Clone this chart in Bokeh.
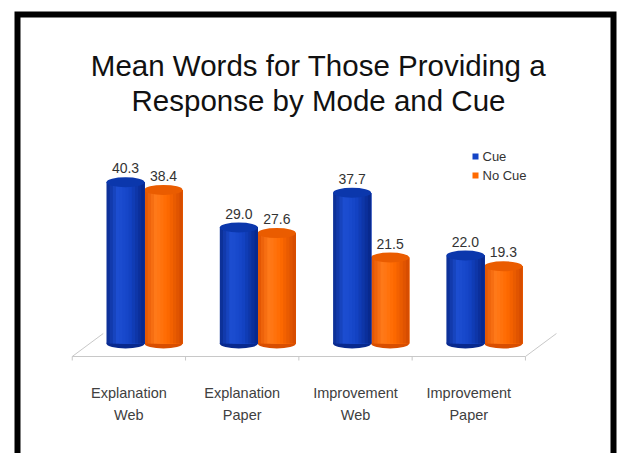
from bokeh.plotting import figure
from bokeh.models import Range1d, ColumnDataSource
from bokeh.core.properties import value
from bokeh.embed import file_html
from bokeh.resources import INLINE

# ---------------- data ----------------
categories = ["Explanation\nWeb", "Explanation\nPaper", "Improvement\nWeb", "Improvement\nPaper"]
series_names = ["Cue", "No Cue"]
cue = [40.3, 29.0, 37.7, 22.0]
no_cue = [38.4, 27.6, 21.5, 19.3]
title_lines = ["Mean Words for Those Providing a", "Response by Mode and Cue"]

# ---------------- layout helpers (pixel -> data) ----------------
W, H = 617, 453
X0, SX = 125.0, 113.3   # pixel of group 0 blue bar centre, pixels per group
Y0, SY = 343.0, 4.0     # pixel of value 0, pixels per unit


def X(px):
    return (px - X0) / SX


def Y(py):
    return (Y0 - py) / SY


FONT = value("Liberation Sans")

p = figure(width=W, height=H, output_backend="svg", toolbar_location=None,
           x_range=Range1d(X(0), X(W)), y_range=Range1d(Y(H), Y(0)),
           min_border=0, x_axis_type=None, y_axis_type=None)
p.outline_line_color = None
p.grid.visible = False
p.background_fill_color = "white"
p.border_fill_color = "white"

n = len(categories)
bar_w = 38 / SX
ell_h = 10 / SY

# ---------------- floor ----------------
floor_col = "#c8c8c8"
bounds = [i - 0.47 for i in range(n + 1)]
front_y = Y(356)
dx, dy = 31 / SX, 23 / SY
p.line([bounds[0], bounds[-1]], [front_y, front_y], line_color=floor_col, line_width=1)
p.line([bounds[0], bounds[0] + dx], [front_y, front_y + dy], line_color=floor_col, line_width=1)
p.line([bounds[-1], bounds[-1] + dx], [front_y, front_y + dy], line_color=floor_col, line_width=1)
p.segment(x0=bounds, y0=[front_y] * (n + 1), x1=bounds, y1=[front_y - 4 / SY] * (n + 1),
          line_color=floor_col, line_width=1)


# ---------------- cylinders ----------------
def hex2rgb(h):
    h = h.lstrip("#")
    return tuple(int(h[i:i + 2], 16) for i in (0, 2, 4))


def lerp_col(stops, u):
    for (u0, c0), (u1, c1) in zip(stops, stops[1:]):
        if u0 <= u <= u1:
            t = (u - u0) / (u1 - u0) if u1 > u0 else 0
            a, b = hex2rgb(c0), hex2rgb(c1)
            return "#%02x%02x%02x" % tuple(int(round(a[k] + (b[k] - a[k]) * t)) for k in range(3))
    return stops[-1][1]


styles = {
    "Cue": dict(stops=[(0, "#0a2c90"), (0.3, "#1d4ed2"), (0.6, "#1444c6"), (1, "#072688")],
                top="#0b37ac", bottom="#08298e", offset=0.0),
    "No Cue": dict(stops=[(0, "#e05200"), (0.3, "#ff7a1a"), (0.6, "#ff6a00"), (1, "#d24a00")],
                   top="#ea5c00", bottom="#d84e00", offset=bar_w),
}

NS = 12
for name, vals in reversed(list(zip(series_names, [cue, no_cue]))):
    st = styles[name]
    xs = [i + st["offset"] for i in range(n)]
    src = ColumnDataSource(dict(x=xs, top=vals, base=[0] * n))
    p.ellipse(x="x", y="base", width=bar_w, height=ell_h, source=src,
              fill_color=st["bottom"], line_color=None)
    sw = bar_w / NS
    for k in range(NS):
        u = (k + 0.5) / NS
        col = lerp_col(st["stops"], u)
        # each strip starts at its own left edge and extends to the bar's right edge,
        # so later strips cover earlier ones without leaving seams
        left = [x - bar_w / 2 + sw * k for x in xs]
        right = [x + bar_w / 2 for x in xs]
        p.quad(left=left, right=right, top=vals, bottom=0,
               fill_color=col, line_color=None)
    p.ellipse(x="x", y="top", width=bar_w, height=ell_h, source=src,
              fill_color=st["top"], line_color=None)
    p.text(x=xs, y=vals, text=["%.1f" % v for v in vals], text_align="center",
           text_baseline="alphabetic", y_offset=-14, text_font=FONT,
           text_font_size="14px", text_color="#333333")

# ---------------- category labels ----------------
cx = [i + 0.03 for i in range(n)]
line1 = [c.split("\n")[0] for c in categories]
line2 = [c.split("\n")[1] for c in categories]
p.text(x=cx, y=[Y(392)] * n, text=line1, text_align="center", text_baseline="alphabetic",
       text_font=FONT, text_font_size="14.5px", text_color="#404040")
p.text(x=cx, y=[Y(414)] * n, text=line2, text_align="center", text_baseline="alphabetic",
       text_font=FONT, text_font_size="14.5px", text_color="#404040")

# ---------------- legend ----------------
leg_y = [Y(156), Y(175)]
p.scatter(x=[X(475)] * 2, y=leg_y, marker="square", size=6,
          fill_color=[styles[s]["stops"][2][1] for s in series_names], line_color=None)
p.text(x=[X(482)] * 2, y=leg_y, text=series_names, text_align="left", text_baseline="middle",
       text_font=FONT, text_font_size="13px", text_color="#333333")

# ---------------- title ----------------
p.text(x=[X(318)] * 2, y=[Y(65), Y(100)], text=title_lines, text_align="center",
       text_baseline="alphabetic", text_font=FONT, text_font_size="29.5px", text_color="#111111")

# ---------------- frame (no bottom edge) ----------------
p.line([X(17), X(17), X(613), X(613)], [Y(H + 5), Y(14), Y(14), Y(H + 5)],
       line_color="black", line_width=6, line_join="miter")

open("out.html", "w").write(file_html(p, INLINE))
